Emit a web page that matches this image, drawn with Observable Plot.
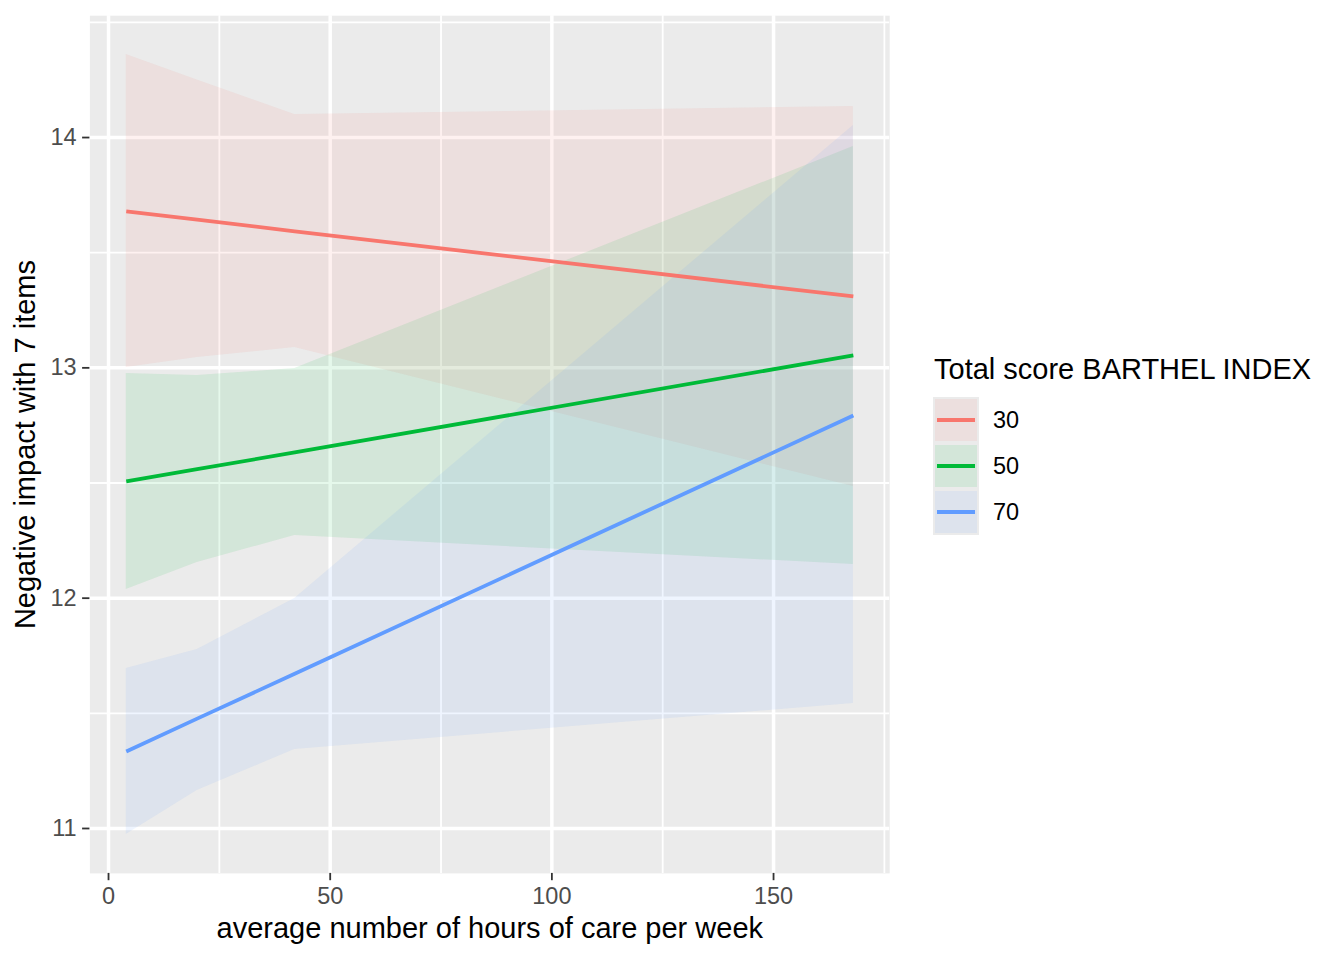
<!DOCTYPE html>
<html>
<head>
<meta charset="utf-8">
<script src="https://cdn.jsdelivr.net/npm/d3@7"></script>
<script src="https://cdn.jsdelivr.net/npm/@observablehq/plot@0.6"></script>
<style>
  html, body { margin: 0; padding: 0; background: white; }
  #chart { width: 1344px; height: 960px; }
</style>
</head>
<body>
<div id="chart"></div>
<script>
// ---- data ----
const hours = [4, 20, 42, 168];
const barthelLevels = ["30", "50", "70"];
const groupColors = ["#F8766D", "#00BA38", "#619CFF"];

const fit30 = [13.679, 13.644, 13.593, 13.310];
const lo30  = [13.001, 13.045, 13.088, 12.485];
const hi30  = [14.360, 14.250, 14.100, 14.135];

const fit50 = [12.507, 12.560, 12.633, 13.054];
const lo50  = [12.038, 12.155, 12.272, 12.146];
const hi50  = [12.975, 12.967, 12.997, 13.961];

const fit70 = [11.334, 11.477, 11.672, 12.793];
const lo70  = [10.974, 11.165, 11.343, 11.543];
const hi70  = [11.695, 11.777, 11.999, 14.052];

const xMajor = [0, 50, 100, 150];
const xMinor = [25, 75, 125, 175];
const yMajor = [11, 12, 13, 14];
const yMinor = [11.5, 12.5, 13.5, 14.5];

const xTitle = "average number of hours of care per week";
const yTitle = "Negative impact with 7 items";
const legendTitle = "Total score BARTHEL INDEX";

// ---- build table ----
const fits = [fit30, fit50, fit70];
const los = [lo30, lo50, lo70];
const his = [hi30, hi50, hi70];
const rows = barthelLevels.flatMap((g, i) =>
  hours.map((h, j) => ({hours: h, group: g, fit: fits[i][j], lo: los[i][j], hi: his[i][j]}))
);

const font = "'Liberation Sans', Arial, Helvetica, sans-serif";

const chart = Plot.plot({
  width: 1344,
  height: 960,
  marginLeft: 89.4,
  marginRight: 454.8,
  marginTop: 15.2,
  marginBottom: 87.1,
  x: {domain: [-4.2, 176.2]},
  y: {domain: [10.805, 14.529]},
  color: {domain: barthelLevels, range: groupColors},
  style: {fontFamily: font, background: "white", color: "black"},
  marks: [
    Plot.frame({fill: "#EBEBEB", stroke: "none"}),
    Plot.ruleX(xMinor, {stroke: "white", strokeWidth: 1.8}),
    Plot.ruleY(yMinor, {stroke: "white", strokeWidth: 1.8}),
    Plot.ruleX(xMajor, {stroke: "white", strokeWidth: 3.5}),
    Plot.ruleY(yMajor, {stroke: "white", strokeWidth: 3.5}),
    Plot.areaY(rows, {x: "hours", y1: "lo", y2: "hi", fill: "group", fillOpacity: 0.1}),
    Plot.line(rows, {x: "hours", y: "fit", stroke: "group", strokeWidth: 3.8, strokeLinecap: "butt"}),
    Plot.axisX(xMajor, {tickSize: 7.3, tickPadding: 7, fontSize: 23.5, stroke: "#333333", fill: "#4D4D4D", strokeWidth: 1.8, label: null, tickFormat: d => String(d)}),
    Plot.axisY(yMajor, {tickSize: 7.3, tickPadding: 6, fontSize: 23.5, stroke: "#333333", fill: "#4D4D4D", strokeWidth: 1.8, label: null, tickFormat: d => String(d)}),
    Plot.text([xTitle], {frameAnchor: "bottom", lineAnchor: "middle", textAnchor: "middle", dy: 55, fontSize: 29, fill: "black"}),
    Plot.text([yTitle], {frameAnchor: "left", lineAnchor: "middle", textAnchor: "middle", dx: -63.7, rotate: -90, fontSize: 29, fill: "black"})
  ]
});

// ---- legend (ggplot style keys) ----
const svg = d3.select(chart);
const lg = svg.append("g").attr("font-family", font).attr("text-anchor", "start");
lg.append("text").attr("x", 934).attr("y", 379).attr("font-size", 29).attr("fill", "black").text(legendTitle);
lg.append("rect").attr("x", 933).attr("y", 397).attr("width", 46).attr("height", 138).attr("fill", "#EBEBEB");
barthelLevels.forEach((g, i) => {
  const y0 = 397 + i * 46;
  lg.append("rect").attr("x", 935).attr("y", y0 + 2).attr("width", 42).attr("height", 42)
    .attr("fill", groupColors[i]).attr("fill-opacity", 0.1);
  lg.append("line").attr("x1", 937).attr("x2", 975).attr("y1", y0 + 23).attr("y2", y0 + 23)
    .attr("stroke", groupColors[i]).attr("stroke-width", 3.8);
  lg.append("text").attr("x", 993).attr("y", y0 + 23).attr("dy", "0.35em")
    .attr("font-size", 23.5).attr("fill", "black").text(g);
});

document.getElementById("chart").appendChild(chart);
</script>
</body>
</html>
